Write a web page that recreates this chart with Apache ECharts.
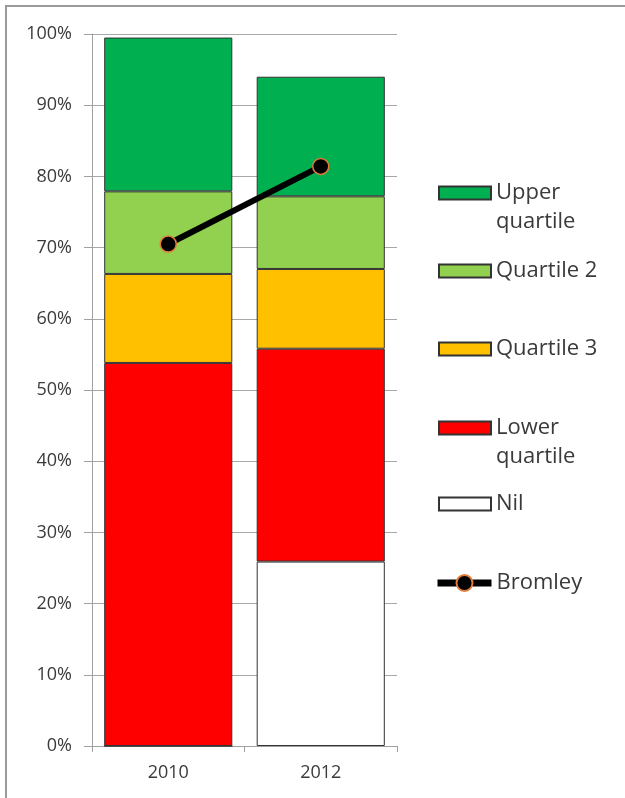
<!DOCTYPE html>
<html>
<head>
<meta charset="utf-8">
<script src="https://cdn.jsdelivr.net/npm/echarts@6/dist/echarts.min.js"></script>
<style>
  html, body { margin: 0; padding: 0; background: #fff; }
  #chart { width: 625px; height: 798px; }
</style>
</head>
<body>
<div id="chart"></div>
<script>
// Share of results by quartile band, stacked from the bottom up
const years = ['2010', '2012'];
const nil = [0, 25.9];
const lowerQuartile = [53.8, 29.9];
const quartile3 = [12.5, 11.2];
const quartile2 = [11.6, 10.2];
const upperQuartile = [21.6, 16.8];
const bromley = [70.5, 81.4];

const FONT = '"Open Sans", "DejaVu Sans", sans-serif';
const TEXT = '#3a3a3a';
const EDGE = '#333333';

function barSeries(name, data, color) {
  return {
    name: name,
    type: 'bar',
    stack: 'share',
    barCategoryGap: '16%',
    data: data,
    itemStyle: { color: color, borderColor: EDGE, borderWidth: 1 },
    emphasis: { disabled: true }
  };
}

// One legend block per entry so each sits at its own height.
// Two-line labels get a blank leading line so the first line lines up with the swatch.
function legendEntry(name, label, centerY, lines, opts) {
  const lh = 29;
  const text = lines === 2 ? '\n' + label : label;
  const boxH = lines === 2 ? lh * 3 : lh;
  return Object.assign({
    data: [name],
    orient: 'vertical',
    left: 438,
    top: centerY - boxH / 2,
    padding: 0,
    itemWidth: 52,
    itemHeight: 13,
    itemGap: 0,
    icon: 'rect',
    selectedMode: false,
    formatter: function () { return text; },
    textStyle: {
      fontFamily: FONT,
      fontSize: 22,
      color: TEXT,
      lineHeight: lh
    }
  }, opts || {});
}

const chart = echarts.init(document.getElementById('chart'), null, { renderer: 'canvas' });

chart.setOption({
  animation: false,
  backgroundColor: '#fff',
  textStyle: { fontFamily: FONT },
  grid: { left: 92, right: 228, top: 34, bottom: 52, containLabel: false },
  legend: [
    legendEntry('Upper quartile', 'Upper\nquartile', 193, 2),
    legendEntry('Quartile 2', 'Quartile 2', 271, 1),
    legendEntry('Quartile 3', 'Quartile 3', 349, 1),
    legendEntry('Lower quartile', 'Lower\nquartile', 428, 2),
    legendEntry('Nil', 'Nil', 504, 1),
    legendEntry('Bromley', 'Bromley', 583, 1, {
      icon: null,
      itemWidth: 54,
      itemHeight: 20,
      left: 434,
      lineStyle: { width: 7, color: '#000' }
    })
  ],
  xAxis: {
    type: 'category',
    data: years,
    axisLine: { show: true, lineStyle: { color: '#a0a0a0', width: 1 } },
    axisTick: { show: true, length: 6, lineStyle: { color: '#a0a0a0' } },
    axisLabel: { fontFamily: FONT, fontSize: 18, color: TEXT, margin: 18 }
  },
  yAxis: {
    type: 'value',
    min: 0,
    max: 100,
    interval: 10,
    axisLine: { show: true, lineStyle: { color: '#a0a0a0', width: 1 } },
    axisTick: { show: true, inside: false, length: 8, lineStyle: { color: '#a0a0a0' } },
    splitLine: { show: true, lineStyle: { color: '#a8a8a8', width: 1 } },
    axisLabel: { fontFamily: FONT, fontSize: 18, color: TEXT, margin: 20, formatter: '{value}%' }
  },
  series: [
    barSeries('Nil', nil, '#ffffff'),
    barSeries('Lower quartile', lowerQuartile, '#ff0000'),
    barSeries('Quartile 3', quartile3, '#ffc000'),
    barSeries('Quartile 2', quartile2, '#92d050'),
    barSeries('Upper quartile', upperQuartile, '#00b050'),
    {
      name: 'Bromley',
      type: 'line',
      data: bromley,
      z: 5,
      symbol: 'circle',
      symbolSize: 16,
      lineStyle: { color: '#000', width: 6 },
      itemStyle: { color: '#000', borderColor: '#e07b39', borderWidth: 1.5 },
      emphasis: { disabled: true }
    }
  ],
  graphic: [
    {
      type: 'polyline',
      silent: true,
      shape: { points: [[6, 798], [6, 6], [625, 6]] },
      style: { stroke: '#9a9a9a', lineWidth: 2, fill: null }
    }
  ]
});
</script>
</body>
</html>
